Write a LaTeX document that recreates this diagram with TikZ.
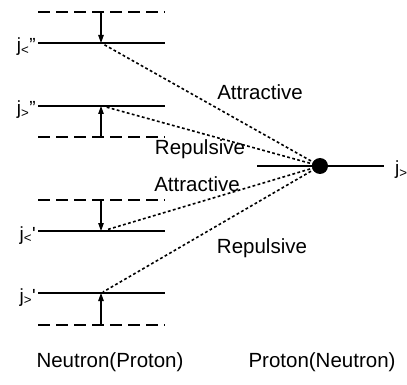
\documentclass[tikz,border=0pt]{standalone}
\usepackage{fontspec}
\setmainfont{Liberation Sans}
\usetikzlibrary{arrows.meta}
\begin{document}
\begin{tikzpicture}[x=1pt,y=-1pt,
  level/.style={line width=1.4pt},
  virtual/.style={line width=1.4pt,dash pattern=on 12pt off 6pt},
  gap/.style={line width=1.1pt,-{Triangle[length=8pt,width=5.5pt]}},
  force/.style={line width=1.6pt,dash pattern=on 2.8pt off 2.4pt},
  word/.style={font=\fontsize{20.5}{24}\selectfont,inner sep=0pt},
  jlab/.style={font=\fontsize{19}{22}\selectfont,inner sep=0pt,anchor=base east}]
\useasboundingbox (0,0) rectangle (407,385);
% orbits of the left-hand nucleon
\coordinate (d1a) at (38,12);  \coordinate (d1b) at (165,12);
\coordinate (s1a) at (38,43);  \coordinate (s1b) at (165,43);
\coordinate (s2a) at (38,106); \coordinate (s2b) at (165,106);
\coordinate (d2a) at (38,137); \coordinate (d2b) at (165,137);
\coordinate (d3a) at (38,200); \coordinate (d3b) at (165,200);
\coordinate (s3a) at (38,231); \coordinate (s3b) at (165,231);
\coordinate (s4a) at (38,293); \coordinate (s4b) at (165,293);
\coordinate (d4a) at (38,325); \coordinate (d4b) at (165,325);
\draw[virtual] (d1a) -- (d1b);
\draw[level]   (s1a) -- (s1b);
\draw[level]   (s2a) -- (s2b);
\draw[virtual] (d2a) -- (d2b);
\draw[virtual] (d3a) -- (d3b);
\draw[level]   (s3a) -- (s3b);
\draw[level]   (s4a) -- (s4b);
\draw[virtual] (d4a) -- (d4b);
% energy shifts
\coordinate (a1) at (101,12);  \coordinate (b1) at (101,43);
\coordinate (a2) at (101,137); \coordinate (b2) at (101,106);
\coordinate (a3) at (101,200); \coordinate (b3) at (101,231);
\coordinate (a4) at (101,325); \coordinate (b4) at (101,293);
\draw[gap] (a1) -- (b1);
\draw[gap] (a2) -- (b2);
\draw[gap] (a3) -- (b3);
\draw[gap] (a4) -- (b4);
% labels of the orbits
\node[jlab] (j1) at (36,52)  {j\textsubscript{<}"};
\node[jlab] (j2) at (36,115) {j\textsubscript{>}"};
\node[jlab] (j3) at (36,240) {j\textsubscript{<}\textquotesingle};
\node[jlab] (j4) at (36,302) {j\textsubscript{>}\textquotesingle};
% the right-hand nucleon
\coordinate (ra) at (257,166); \coordinate (rb) at (384,166);
\draw[level] (ra) -- (rb);
\node[circle,fill=black,minimum size=16pt,inner sep=0pt] (dot) at (320,166) {};
\node[jlab,anchor=base west] (jr) at (395,175) {j\textsubscript{>}};
% tensor-force interactions
\coordinate (e1) at (103,44);
\coordinate (e2) at (106,107);
\coordinate (e3) at (106,230);
\coordinate (e4) at (103,292);
\draw[force] (dot.center) -- (e1);
\draw[force] (dot.center) -- (e2);
\draw[force] (dot.center) -- (e3);
\draw[force] (dot.center) -- (e4);
\node[word] (t1) at (260,92)  {Attractive};
\node[word] (t2) at (200,149) {Repulsive};
\node[word] (t3) at (197,184) {Attractive};
\node[word] (t4) at (262,248) {Repulsive};
% particle kinds
\node[word] (n1) at (110,362) {Neutron(Proton)};
\node[word] (n2) at (322,362) {Proton(Neutron)};
\end{tikzpicture}
\end{document}
